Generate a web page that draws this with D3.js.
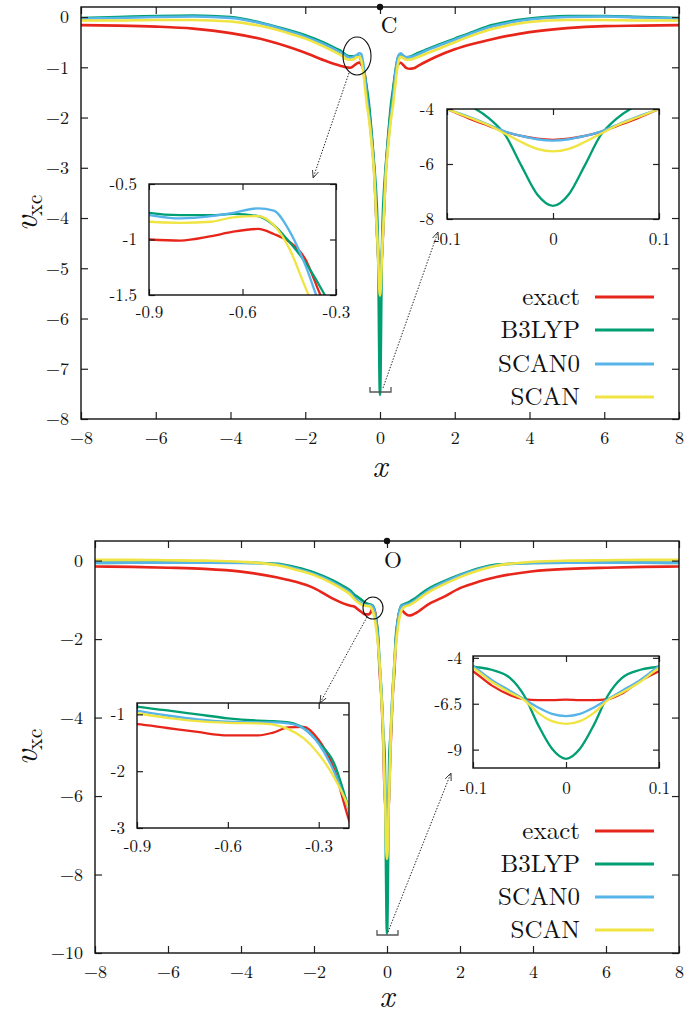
<!DOCTYPE html>
<html><head><meta charset="utf-8">
<script src="https://cdn.jsdelivr.net/npm/d3@7"></script>
<style>
body{margin:0;background:#fff}
svg{display:block}
svg text{font-family:"Latin Modern Roman","Liberation Serif",serif;fill:#111}
</style>
</head><body>
<svg id="chart" width="699" height="1014"></svg>
<script>
// ---------------- data ----------------
const seriesNames = ["exact", "B3LYP", "SCAN0", "SCAN"];
const seriesColors = ["#e8251a", "#009e73", "#56b4e9", "#f0e442"];
const atomLabels = ["C", "O"];

const xTicksMain = [-8, -6, -4, -2, 0, 2, 4, 6, 8];
const yTicksC = [0, -1, -2, -3, -4, -5, -6, -7, -8];
const yTicksO = [0, -2, -4, -6, -8, -10];

// Carbon panel
const xC = [-8,-7,-6,-5,-4,-3,-2.5,-2,-1.5,-1.2,-1,-0.9,-0.8,-0.7,-0.63,-0.55,-0.5,-0.45,-0.4,-0.35,-0.3,-0.22,-0.15,-0.1,-0.08,-0.06,-0.045,-0.03,-0.015,
  0,
  0.015,0.03,0.045,0.06,0.08,0.1,0.15,0.22,0.3,0.35,0.4,0.45,0.5,0.55,0.63,0.7,0.8,0.9,1,1.2,1.5,2,2.5,3,4,5,6,7,8];
const exactC = [-0.16,-0.17,-0.19,-0.23,-0.32,-0.47,-0.58,-0.71,-0.86,-0.94,-0.98,-1.0,-1.01,-0.97,-0.93,-0.905,-0.95,-1.02,-1.17,-1.5,-1.8,-2.4,-3.1,-4.0,-4.33,-4.62,-4.83,-4.98,-5.08,
  -5.12,
  -5.08,-4.98,-4.83,-4.62,-4.33,-4.0,-3.1,-2.4,-1.8,-1.5,-1.17,-1.0,-0.93,-0.91,-0.96,-1.01,-1.03,-1.02,-0.98,-0.9,-0.79,-0.64,-0.53,-0.44,-0.3,-0.22,-0.18,-0.17,-0.16];
const b3lypC = [-0.02,0.0,0.02,0.03,0.0,-0.15,-0.25,-0.36,-0.51,-0.62,-0.7,-0.76,-0.78,-0.78,-0.77,-0.79,-0.87,-1.02,-1.2,-1.43,-1.7,-2.35,-3.0,-3.55,-3.85,-4.35,-4.95,-6.05,-7.1,
  -7.52,
  -7.1,-6.05,-4.95,-4.35,-3.85,-3.55,-3.0,-2.35,-1.7,-1.43,-1.15,-0.9,-0.77,-0.74,-0.78,-0.8,-0.79,-0.76,-0.72,-0.66,-0.57,-0.43,-0.29,-0.16,-0.03,0.02,0.02,0.0,-0.02];
const scan0C = [-0.03,-0.02,0.0,0.01,-0.02,-0.16,-0.27,-0.39,-0.54,-0.65,-0.73,-0.78,-0.81,-0.79,-0.76,-0.72,-0.74,-0.92,-1.22,-1.6,-1.9,-2.5,-3.15,-4.0,-4.28,-4.58,-4.82,-4.98,-5.1,
  -5.15,
  -5.1,-4.98,-4.82,-4.58,-4.28,-4.0,-3.15,-2.5,-1.9,-1.6,-1.22,-0.92,-0.76,-0.72,-0.77,-0.8,-0.8,-0.78,-0.75,-0.68,-0.59,-0.45,-0.31,-0.19,-0.05,0.0,0.01,-0.01,-0.03];
const scanC = [-0.07,-0.07,-0.06,-0.06,-0.09,-0.21,-0.31,-0.43,-0.59,-0.7,-0.78,-0.84,-0.85,-0.84,-0.8,-0.79,-0.87,-1.08,-1.42,-1.75,-2.0,-2.55,-3.2,-4.0,-4.3,-4.6,-4.9,-5.2,-5.45,
  -5.54,
  -5.45,-5.2,-4.9,-4.6,-4.3,-4.0,-3.2,-2.55,-2.0,-1.75,-1.42,-1.08,-0.87,-0.79,-0.82,-0.85,-0.85,-0.83,-0.8,-0.74,-0.65,-0.5,-0.36,-0.24,-0.1,-0.06,-0.06,-0.07,-0.07];

// Oxygen panel
const xO = [-8,-7,-6,-5,-4,-3,-2.5,-2,-1.5,-1.2,-1,-0.9,-0.8,-0.7,-0.6,-0.5,-0.45,-0.4,-0.35,-0.3,-0.25,-0.2,-0.15,-0.1,-0.08,-0.06,-0.045,-0.03,-0.015,
  0,
  0.015,0.03,0.045,0.06,0.08,0.1,0.15,0.2,0.25,0.3,0.35,0.4,0.45,0.5,0.6,0.7,0.8,0.9,1,1.2,1.5,2,2.5,3,4,5,6,7,8];
const exactO = [-0.15,-0.16,-0.18,-0.21,-0.28,-0.43,-0.54,-0.7,-0.96,-1.09,-1.15,-1.17,-1.24,-1.31,-1.37,-1.37,-1.32,-1.23,-1.22,-1.45,-1.95,-2.86,-3.55,-4.73,-5.5,-6.03,-6.25,-6.3,-6.3,
  -6.28,
  -6.3,-6.3,-6.25,-5.95,-5.25,-4.73,-3.55,-2.86,-1.95,-1.5,-1.28,-1.26,-1.3,-1.35,-1.4,-1.38,-1.33,-1.27,-1.2,-1.08,-0.95,-0.7,-0.54,-0.42,-0.27,-0.21,-0.18,-0.16,-0.15];
const b3lypO = [-0.06,-0.05,-0.05,-0.05,-0.05,-0.08,-0.17,-0.3,-0.5,-0.65,-0.77,-0.865,-0.93,-1.0,-1.07,-1.11,-1.12,-1.14,-1.24,-1.5,-1.85,-2.66,-3.4,-4.46,-4.65,-5.1,-6.05,-7.65,-8.95,
  -9.5,
  -8.95,-7.65,-6.05,-5.1,-4.65,-4.46,-3.4,-2.66,-1.85,-1.5,-1.24,-1.14,-1.12,-1.1,-1.06,-1.0,-0.94,-0.87,-0.8,-0.68,-0.55,-0.36,-0.2,-0.1,-0.06,-0.05,-0.05,-0.05,-0.06];
const scan0O = [-0.05,-0.05,-0.05,-0.05,-0.06,-0.1,-0.2,-0.34,-0.54,-0.7,-0.82,-0.935,-1.02,-1.09,-1.13,-1.14,-1.14,-1.16,-1.25,-1.52,-2.0,-2.69,-3.45,-4.46,-5.2,-5.8,-6.25,-6.7,-7.05,
  -7.17,
  -7.05,-6.7,-6.25,-5.8,-5.2,-4.46,-3.45,-2.69,-2.0,-1.52,-1.25,-1.16,-1.14,-1.13,-1.1,-1.05,-0.99,-0.92,-0.85,-0.72,-0.58,-0.38,-0.22,-0.12,-0.06,-0.05,-0.05,-0.05,-0.05];
const scanO = [0.02,0.02,0.01,0.0,-0.03,-0.12,-0.23,-0.37,-0.58,-0.74,-0.87,-0.98,-1.06,-1.12,-1.15,-1.16,-1.18,-1.26,-1.42,-1.7,-2.1,-2.66,-3.55,-4.55,-5.3,-5.9,-6.3,-7.0,-7.45,
  -7.6,
  -7.45,-7.0,-6.3,-5.9,-5.3,-4.55,-3.55,-2.66,-2.1,-1.7,-1.42,-1.26,-1.2,-1.17,-1.14,-1.09,-1.03,-0.96,-0.89,-0.77,-0.63,-0.42,-0.25,-0.13,-0.03,0.0,0.01,0.02,0.02];

// inset ticks
const insetC1X = [-0.9, -0.6, -0.3], insetC1Y = [-1.5, -1, -0.5];
const insetC2X = [-0.1, 0, 0.1],    insetC2Y = [-8, -6, -4];
const insetO1X = [-0.9, -0.6, -0.3], insetO1Y = [-3, -2, -1];
const insetO2X = [-0.1, 0, 0.1],    insetO2Y = [-9, -6.5, -4];

// ---------------- layout ----------------
const FONT = '"Latin Modern Roman","Liberation Serif",serif';
const panels = [
  { atom: atomLabels[0], xs: xC, series: [exactC, b3lypC, scan0C, scanC],
    yDom: [-8, 0.2], yTicks: yTicksC, box: {l: 81, r: 679, t: 7, b: 419},
    atomPos: {dx: 9, y: 33}, xLabelDy: 58,
    ellipse: {x: -0.615, y: -0.775, rx: 14, ry: 19},
    arrows: [ {x1: -0.83, y1: -1.114, x2: -1.79, y2: -3.204},
              {x1: 0.08, y1: -7.383, x2: 1.552, y2: -4.278} ],
    bracket: {x1: -0.268, x2: 0.294, yt: -7.364, yb: -7.463},
    legendY: [297, 330, 364, 397],
    insets: [
      {box: {l: 149, r: 336, t: 184, b: 295}, xd: [-0.9, -0.3], yd: [-1.5, -0.5], xt: insetC1X, yt: insetC1Y, xpad: 11, ypad: 12},
      {box: {l: 447, r: 659, t: 109, b: 219}, xd: [-0.1, 0.1], yd: [-8, -4], xt: insetC2X, yt: insetC2Y, xpad: 14, ypad: 13}
    ]},
  { atom: atomLabels[1], xs: xO, series: [exactO, b3lypO, scan0O, scanO],
    yDom: [-10, 0.5], yTicks: yTicksO, box: {l: 95, r: 679, t: 541, b: 953},
    atomPos: {dx: 6, y: 568}, xLabelDy: 54,
    ellipse: {x: -0.384, y: -1.208, rx: 10, ry: 11},
    arrows: [ {x1: -0.548, y1: -1.438, x2: -1.836, y2: -3.629},
              {x1: 0.027, y1: -9.465, x2: 1.753, y2: -5.413} ],
    bracket: {x1: -0.274, x2: 0.301, yt: -9.414, yb: -9.541},
    legendY: [831, 864, 897, 930],
    insets: [
      {box: {l: 137, r: 349, t: 703, b: 828}, xd: [-0.9, -0.2], yd: [-3, -0.8], xt: insetO1X, yt: insetO1Y, xpad: 12, ypad: 12},
      {box: {l: 473, r: 659, t: 656, b: 768}, xd: [-0.1, 0.1], yd: [-10, -3.9], xt: insetO2X, yt: insetO2Y, xpad: 14, ypad: 11}
    ]}
];

const svg = d3.select("#chart");
const defs = svg.append("defs");
defs.append("marker").attr("id", "arr")
  .attr("viewBox", "0 0 10 10").attr("refX", 9.5).attr("refY", 5)
  .attr("markerWidth", 8).attr("markerHeight", 8).attr("markerUnits", "userSpaceOnUse")
  .attr("orient", "auto")
  .append("path").attr("d", "M0,1 L9.5,5 L0,9")
  .attr("fill", "none").attr("stroke", "#333").attr("stroke-width", 1.1);

const fmtMain = d => d < 0 ? "\u2212" + Math.abs(d) : String(d);
const fmtInset = d => String(d);

function styleAxis(g, fs) {
  g.attr("font-family", FONT);
  g.select(".domain").remove();
  g.selectAll(".tick line").attr("stroke", "#222").attr("stroke-width", 1.2);
  g.selectAll(".tick text").attr("font-size", fs).attr("fill", "#111").attr("font-family", FONT);
}

function drawCurves(g, xs, series, x, y, width) {
  series.forEach((vals, k) => {
    const line = d3.line().x((d, i) => x(xs[i])).y(d => y(d)).curve(d3.curveMonotoneX);
    g.append("path").attr("d", line(vals)).attr("fill", "none")
      .attr("stroke", seriesColors[k]).attr("stroke-width", width)
      .attr("stroke-linejoin", "round").attr("stroke-linecap", "round");
  });
}

panels.forEach((p, pi) => {
  const b = p.box;
  const x = d3.scaleLinear().domain([-8, 8]).range([b.l, b.r]);
  const y = d3.scaleLinear().domain(p.yDom).range([b.b, b.t]);
  const g = svg.append("g").attr("font-family", FONT);

  const cid = "clipMain" + pi;
  defs.append("clipPath").attr("id", cid).append("rect")
    .attr("x", b.l).attr("y", b.t).attr("width", b.r - b.l).attr("height", b.b - b.t);

  drawCurves(g.append("g").attr("clip-path", `url(#${cid})`), p.xs, p.series, x, y, 2.6);

  const ax1 = g.append("g").attr("transform", `translate(0,${b.b})`)
    .call(d3.axisBottom(x).tickValues(xTicksMain).tickSize(-7).tickPadding(12).tickFormat(fmtMain));
  styleAxis(ax1, 18);
  const ax2 = g.append("g").attr("transform", `translate(0,${b.t})`)
    .call(d3.axisTop(x).tickValues(xTicksMain).tickSize(-7).tickFormat(""));
  styleAxis(ax2, 18);
  const ay1 = g.append("g").attr("transform", `translate(${b.l},0)`)
    .call(d3.axisLeft(y).tickValues(p.yTicks).tickSize(-7).tickPadding(12).tickFormat(fmtMain));
  styleAxis(ay1, 18);
  const ay2 = g.append("g").attr("transform", `translate(${b.r},0)`)
    .call(d3.axisRight(y).tickValues(p.yTicks).tickSize(-7).tickFormat(""));
  styleAxis(ay2, 18);
  g.append("rect").attr("x", b.l).attr("y", b.t).attr("width", b.r - b.l).attr("height", b.b - b.t)
    .attr("fill", "none").attr("stroke", "#111").attr("stroke-width", 1.4);

  // axis labels
  const yl = g.append("text")
    .attr("transform", `translate(37,${(b.t + b.b) / 2}) rotate(-90)`)
    .attr("text-anchor", "middle").attr("font-family", FONT);
  yl.append("tspan").attr("font-style", "italic").attr("font-size", 34).text("v");
  yl.append("tspan").attr("font-size", 22).attr("dy", 5).text("xc");
  g.append("text").attr("x", x(0)).attr("y", b.b + p.xLabelDy).attr("text-anchor", "middle")
    .attr("font-family", FONT).attr("font-style", "italic").attr("font-size", 32).text("x");

  // atom marker
  g.append("circle").attr("cx", x(0)).attr("cy", b.t).attr("r", 3.2).attr("fill", "#111");
  g.append("text").attr("x", x(0) + p.atomPos.dx).attr("y", p.atomPos.y)
    .attr("text-anchor", "middle").attr("font-family", FONT).attr("font-size", 23).text(p.atom);

  // ellipse, arrows, bracket
  g.append("ellipse").attr("cx", x(p.ellipse.x)).attr("cy", y(p.ellipse.y))
    .attr("rx", p.ellipse.rx).attr("ry", p.ellipse.ry)
    .attr("fill", "none").attr("stroke", "#111").attr("stroke-width", 1.1);
  p.arrows.forEach(a => {
    g.append("line").attr("x1", x(a.x1)).attr("y1", y(a.y1)).attr("x2", x(a.x2)).attr("y2", y(a.y2))
      .attr("stroke", "#222").attr("stroke-width", 1).attr("stroke-dasharray", "1.4,1.6")
      .attr("marker-end", "url(#arr)");
  });
  const br = p.bracket;
  g.append("path")
    .attr("d", `M${x(br.x1)},${y(br.yt)} V${y(br.yb)} H${x(br.x2)} V${y(br.yt)}`)
    .attr("fill", "none").attr("stroke", "#555").attr("stroke-width", 1.3);

  // legend
  seriesNames.forEach((name, k) => {
    const ly = p.legendY[k];
    g.append("text").attr("x", 580).attr("y", ly + 8).attr("text-anchor", "end")
      .attr("font-family", FONT).attr("font-size", 25).text(name);
    g.append("line").attr("x1", 595).attr("x2", 654).attr("y1", ly).attr("y2", ly)
      .attr("stroke", seriesColors[k]).attr("stroke-width", 2.8);
  });

  // insets
  p.insets.forEach((ins, ii) => {
    const ib = ins.box;
    const ix = d3.scaleLinear().domain(ins.xd).range([ib.l, ib.r]);
    const iy = d3.scaleLinear().domain(ins.yd).range([ib.b, ib.t]);
    const ig = g.append("g");
    ig.append("rect").attr("x", ib.l).attr("y", ib.t).attr("width", ib.r - ib.l).attr("height", ib.b - ib.t)
      .attr("fill", "#fff");
    const icid = `clipIns${pi}_${ii}`;
    defs.append("clipPath").attr("id", icid).append("rect")
      .attr("x", ib.l).attr("y", ib.t).attr("width", ib.r - ib.l).attr("height", ib.b - ib.t);
    drawCurves(ig.append("g").attr("clip-path", `url(#${icid})`), p.xs, p.series, ix, iy, 2.3);

    const a1 = ig.append("g").attr("transform", `translate(0,${ib.b})`)
      .call(d3.axisBottom(ix).tickValues(ins.xt).tickSize(-6).tickPadding(ins.xpad).tickFormat(fmtInset));
    styleAxis(a1, 17);
    const a2 = ig.append("g").attr("transform", `translate(0,${ib.t})`)
      .call(d3.axisTop(ix).tickValues(ins.xt).tickSize(-6).tickFormat(""));
    styleAxis(a2, 17);
    const a3 = ig.append("g").attr("transform", `translate(${ib.l},0)`)
      .call(d3.axisLeft(iy).tickValues(ins.yt).tickSize(-6).tickPadding(ins.ypad).tickFormat(fmtInset));
    styleAxis(a3, 17);
    const a4 = ig.append("g").attr("transform", `translate(${ib.r},0)`)
      .call(d3.axisRight(iy).tickValues(ins.yt).tickSize(-6).tickFormat(""));
    styleAxis(a4, 17);
    ig.append("rect").attr("x", ib.l).attr("y", ib.t).attr("width", ib.r - ib.l).attr("height", ib.b - ib.t)
      .attr("fill", "none").attr("stroke", "#111").attr("stroke-width", 1.4);
  });
});
</script>
</body></html>
